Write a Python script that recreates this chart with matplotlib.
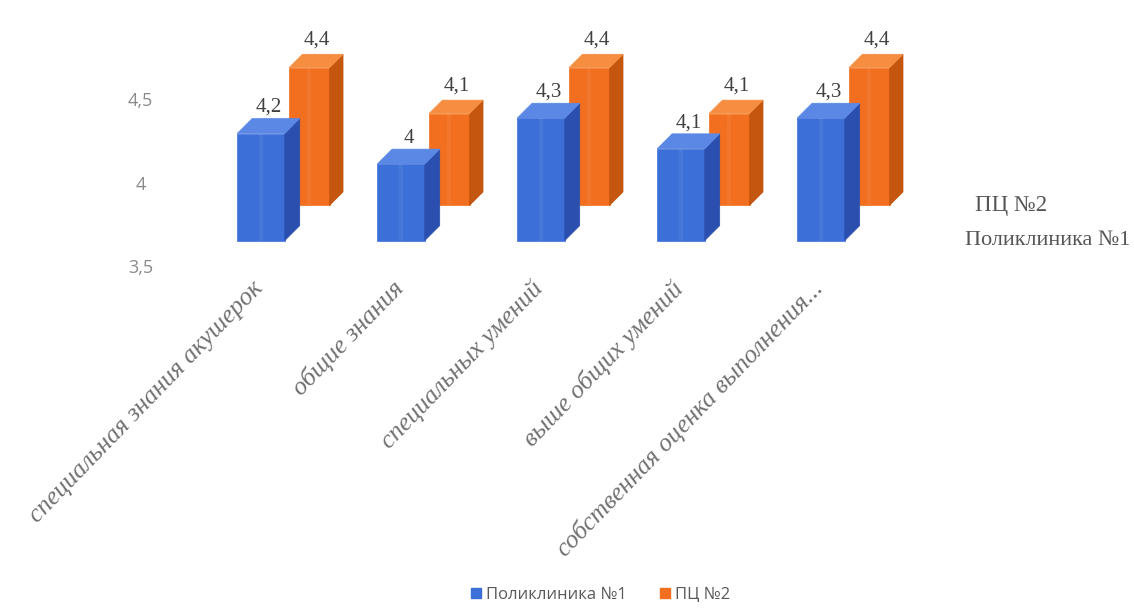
import numpy as np
import matplotlib.pyplot as plt
from matplotlib.patches import Polygon, Patch

categories = ["специальная знания акушерок", "общие знания", "специальных умений",
              "выше общих умений", "собственная оценка выполнения..."]
poly1 = [4.2, 4.0, 4.3, 4.1, 4.3]   # Поликлиника №1
pc2 = [4.4, 4.1, 4.4, 4.1, 4.4]     # ПЦ №2
series_names = ["Поликлиника №1", "ПЦ №2"]
yticks = [3.5, 4.0, 4.5]

base = 3.5
# псевдо-3D параметры (в единицах данных)
dx, dy = 0.107, 0.098
depth_x, depth_y = 0.37, 0.23

blue = ("#3d6fd8", "#2b4fae", "#5a88e4")
orange = ("#f26f1f", "#c4560f", "#f68e42")


def box(ax, left, bottom, top, w, ddx, ddy, cols):
    front = [(left, bottom), (left + w, bottom), (left + w, top), (left, top)]
    side = [(left + w, bottom), (left + w + ddx, bottom + ddy),
            (left + w + ddx, top + ddy), (left + w, top)]
    lid = [(left, top), (left + ddx, top + ddy), (left + w + ddx, top + ddy), (left + w, top)]
    for pts, c in zip([front, side, lid], cols):
        ax.add_patch(Polygon(pts, closed=True, facecolor=c, edgecolor=c, lw=0.5))
    # светлая полоска по центру, как в Excel
    ax.add_patch(Polygon([(left + w * 0.45, bottom), (left + w * 0.55, bottom),
                          (left + w * 0.55, top), (left + w * 0.45, top)],
                         closed=True, facecolor="white", alpha=0.06, lw=0))


fig = plt.figure(figsize=(11.34, 6.09), dpi=100)
ax = fig.add_axes([0.1684, 0.522, 0.7407, 0.412])
ax.set_xlim(-0.5, 5.5)
ax.set_ylim(3.17, 4.81)
ax.axis("off")

x = np.arange(len(categories))
fmt = lambda v: ("%g" % v).replace(".", ",")

# задний ряд - ПЦ №2
w2 = 0.29
for xi, v in zip(x, pc2):
    l = xi - 0.17 + depth_x
    box(ax, l, base + depth_y, v + depth_y, w2, dx * 0.9, dy * 0.9, orange)
    ax.text(l + w2 / 2 + dx / 2, v + depth_y + dy + 0.02, fmt(v), ha="center", va="bottom",
            fontsize=15, family="Liberation Serif", color="#404040")

# передний ряд - Поликлиника №1
w1 = 0.34
for xi, v in zip(x, poly1):
    l = xi - 0.17
    box(ax, l, base, v, w1, dx, dy, blue)
    ax.text(l + w1 / 2 + dx / 2, v + dy + 0.01, fmt(v), ha="center", va="bottom",
            fontsize=15, family="Liberation Serif", color="#404040")

# подписи оси значений (на задней стенке)
for t in yticks:
    ax.text(-0.86, 3.32 + (t - base) * 1.09, fmt(t), ha="center", va="center",
            fontsize=13, family="Open Sans", color="#8a8a8a")

# подписи категорий
for xi, c in zip(x, categories):
    ax.text(xi - 0.01, 3.21, c, rotation=46, rotation_mode="anchor", ha="right", va="center",
            fontsize=18.5, family="Liberation Serif", style="italic", color="#707070")

# подписи рядов по глубине
ax.text(5.1, base + depth_y, series_names[1], ha="left", va="center",
        fontsize=16.5, family="Liberation Serif", color="#555555")
ax.text(5.03, base, series_names[0], ha="left", va="center",
        fontsize=16, family="Liberation Serif", color="#555555")

handles = [Patch(color=blue[0]), Patch(color=orange[0])]
fig.legend(handles, series_names, loc="center", bbox_to_anchor=(0.53, 0.023), ncol=2,
           frameon=False, handlelength=0.6, handleheight=0.6, handletextpad=0.3,
           columnspacing=2.0, prop={"family": "Open Sans", "size": 12}, labelcolor="#595959")

fig.savefig("out.png", dpi=100, facecolor="white")
